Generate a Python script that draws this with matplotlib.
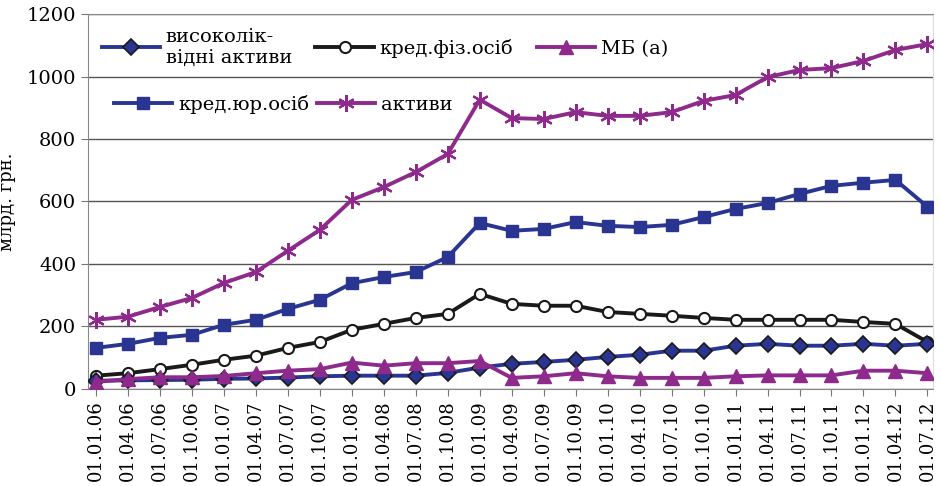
import matplotlib
matplotlib.use('Agg')
import matplotlib.pyplot as plt

plt.rcParams['font.family'] = ['DejaVu Serif']

dates = ['01.01.06', '01.04.06', '01.07.06', '01.10.06', '01.01.07', '01.04.07',
         '01.07.07', '01.10.07', '01.01.08', '01.04.08', '01.07.08', '01.10.08',
         '01.01.09', '01.04.09', '01.07.09', '01.10.09', '01.01.10', '01.04.10',
         '01.07.10', '01.10.10', '01.01.11', '01.04.11', '01.07.11', '01.10.11',
         '01.01.12', '01.04.12', '01.07.12']

liquid = [26, 27, 28, 29, 32, 33, 36, 40, 42, 42, 42, 51, 68, 80, 86, 93, 102, 109,
          122, 122, 138, 144, 138, 138, 144, 138, 144]
cred_phys = [42, 50, 63, 77, 93, 106, 131, 150, 189, 208, 227, 240, 304, 272, 266,
             266, 246, 240, 234, 227, 221, 221, 221, 221, 214, 208, 150]
mb = [22, 31, 37, 37, 41, 50, 58, 63, 84, 74, 82, 82, 89, 35, 40, 50, 40, 35,
      35, 35, 40, 43, 43, 43, 58, 58, 50]
cred_legal = [131, 144, 163, 173, 205, 221, 256, 285, 338, 358, 374, 422, 531, 506,
              512, 534, 522, 518, 525, 550, 576, 595, 624, 650, 660, 669, 583]
assets = [221, 231, 262, 291, 339, 374, 442, 509, 605, 646, 694, 752, 926, 867, 864,
          886, 874, 874, 886, 922, 941, 998, 1021, 1027, 1050, 1085, 1104]

blue = '#2a3592'
purple = '#8d2a8c'

fig = plt.figure(figsize=(9.41, 4.86), dpi=100)
ax = fig.add_axes([0.0935, 0.2, 0.8975, 0.771])

x = range(len(dates))
lw = 2.8
l_assets, = ax.plot(x, assets, color=purple, lw=lw, marker=(6, 2, 0), ms=12,
                    mew=1.6, label='активи', zorder=3)
l_legal, = ax.plot(x, cred_legal, color=blue, lw=lw, marker='s', ms=8,
                   label='кред.юр.осіб', zorder=3)
l_phys, = ax.plot(x, cred_phys, color='#1a1a1a', lw=lw, marker='o', ms=8,
                  mfc='white', mec='#1a1a1a', mew=1.5, label='кред.фіз.осіб', zorder=4)
l_liq, = ax.plot(x, liquid, color=blue, lw=lw, marker='D', ms=8, mec='#1a1a1a',
                 mew=1.2, label='високолік-\nвідні активи', zorder=4)
l_mb, = ax.plot(x, mb, color=purple, lw=lw, marker='^', ms=10,
                label='МБ (а)', zorder=5)

ax.set_xlim(-0.25, 26.16)
ax.set_ylim(0, 1200)
ax.set_yticks(range(0, 1201, 200))
ax.set_xticks(list(x))
ax.set_xticklabels(dates, rotation=90, fontsize=13)
ax.tick_params(axis='y', labelsize=14, length=5, color='#777777')
ax.tick_params(axis='x', length=5, color='#777777')
ax.grid(axis='y', color='#555555', lw=1)
ax.set_axisbelow(True)
for s in ax.spines.values():
    s.set_color('#888888')
ax.spines['right'].set_color('#dddddd')
ax.set_ylabel('млрд. грн.', fontsize=13)
ax.yaxis.set_label_coords(-0.085, 0.5)

leg1 = ax.legend(handles=[l_liq, l_phys, l_mb], loc='upper left',
                 bbox_to_anchor=(0.0, 1.0), ncol=3, frameon=False, fontsize=14,
                 handlelength=3, columnspacing=1.2, handletextpad=0.3,
                 borderaxespad=0.3)
ax.add_artist(leg1)
ax.legend(handles=[l_legal, l_assets], loc='upper left',
          bbox_to_anchor=(0.01, 0.83), ncol=2, frameon=False, fontsize=14,
          handlelength=3, columnspacing=0.4, handletextpad=0.3)

fig.savefig('out.png', dpi=100)
